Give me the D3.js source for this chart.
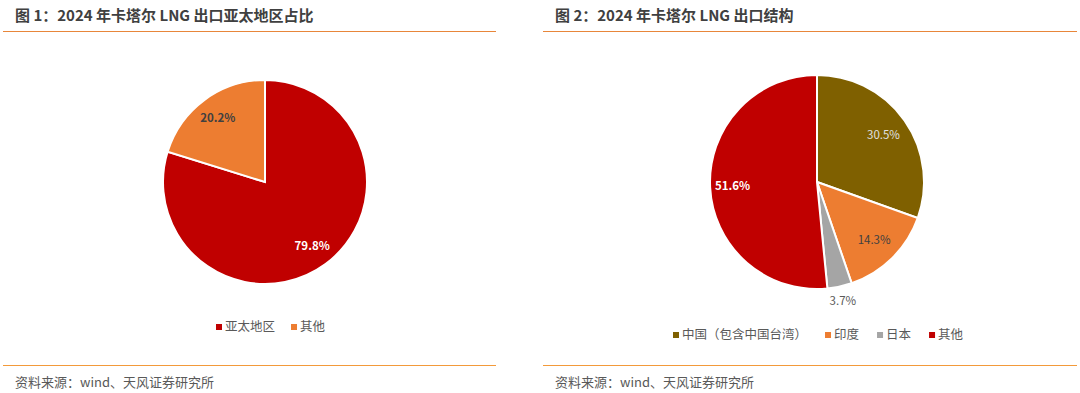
<!DOCTYPE html>
<html>
<head>
<meta charset="utf-8">
<script src="https://cdn.jsdelivr.net/npm/d3@7"></script>
<style>
  body { margin: 0; background: #fff; }
  svg { display: block; font-family: "Noto Sans CJK SC", "Noto Sans", sans-serif; }
</style>
</head>
<body>
<svg id="chart" width="1080" height="393"></svg>
<script>
// chart 1: share of Qatar LNG exports to Asia-Pacific
var regionNames = ['亚太地区', '其他'];
var regionShares = [79.8, 20.2];
var regionColors = ['#C00000', '#ED7D31'];

// chart 2: Qatar LNG export structure
var countryNames = ['中国（包含中国台湾）', '印度', '日本', '其他'];
var countryShares = [30.5, 14.3, 3.7, 51.6];
var countryColors = ['#7F6000', '#ED7D31', '#A5A5A5', '#C00000'];

var titles = ['图 1：2024 年卡塔尔 LNG 出口亚太地区占比', '图 2：2024 年卡塔尔 LNG 出口结构'];
var source = '资料来源：wind、天风证券研究所';

var svg = d3.select('#chart');

// panel frames: title, orange rules, source line
var panels = [{x0: 3, x1: 496, tx: 15}, {x0: 543, x1: 1077, tx: 555}];
panels.forEach(function(p, i) {
    svg.append('text')
        .attr('x', p.tx).attr('y', 21)
        .attr('font-size', 15).attr('font-weight', 'bold')
        .attr('fill', '#404040')
        .text(titles[i]);
    svg.append('line')
        .attr('x1', p.x0).attr('x2', p.x1)
        .attr('y1', 31.5).attr('y2', 31.5)
        .attr('stroke', '#E8863A').attr('stroke-width', 1);
    svg.append('line')
        .attr('x1', p.x0).attr('x2', p.x1)
        .attr('y1', 365.5).attr('y2', 365.5)
        .attr('stroke', '#F39A3A').attr('stroke-width', 1.2);
    svg.append('text')
        .attr('x', p.tx).attr('y', 387)
        .attr('font-size', 13)
        .attr('fill', '#595959')
        .text(source);
});

function drawPie(cfg) {
    var data = cfg.values.map(function(v, i) {
        return {name: cfg.names[i], value: v, color: cfg.colors[i], label: cfg.labels[i]};
    });
    var pie = d3.pie().sort(null).value(function(d) { return d.value; });
    var arcs = pie(data);
    var arc = d3.arc().innerRadius(0).outerRadius(cfg.r);

    var g = svg.append('g')
        .attr('transform', 'translate(' + cfg.cx + ',' + cfg.cy + ')');

    g.selectAll('path').data(arcs).enter().append('path')
        .attr('d', arc)
        .attr('fill', function(d) { return d.data.color; })
        .attr('stroke', '#fff')
        .attr('stroke-width', 2);

    g.selectAll('text').data(arcs).enter().append('text')
        .attr('transform', function(d) {
            var lr = cfg.r * d.data.label.rf;
            var c = d3.arc().innerRadius(lr).outerRadius(lr).centroid(d);
            return 'translate(' + c[0] + ',' + c[1] + ')';
        })
        .attr('text-anchor', 'middle')
        .attr('dy', '0.35em')
        .attr('font-size', 11.5)
        .attr('font-weight', function(d) { return d.data.label.bold ? 'bold' : 'normal'; })
        .attr('fill', function(d) { return d.data.label.fill; })
        .text(function(d) { return d.data.value.toFixed(1) + '%'; });

    // legend under the pie
    var lg = svg.append('g').attr('font-size', 12.5).attr('fill', '#595959');
    var x = cfg.legendX;
    data.forEach(function(d, i) {
        var item = lg.append('g').attr('transform', 'translate(' + x + ',' + cfg.legendY + ')');
        item.append('rect')
            .attr('x', 0).attr('y', -3).attr('width', 6).attr('height', 6)
            .attr('fill', d.color);
        var t = item.append('text')
            .attr('x', 9).attr('y', 0).attr('dy', '0.35em')
            .text(d.name);
        x += 9 + t.node().getComputedTextLength() + cfg.legendGap;
    });
}

drawPie({
    names: regionNames, values: regionShares, colors: regionColors,
    labels: [
        {rf: 0.78, fill: '#fff', bold: true},
        {rf: 0.78, fill: '#404040', bold: true}
    ],
    cx: 265, cy: 182, r: 102,
    legendX: 216, legendY: 327, legendGap: 16
});

drawPie({
    names: countryNames, values: countryShares, colors: countryColors,
    labels: [
        {rf: 0.76, fill: '#E0E0E0', bold: false},
        {rf: 0.76, fill: '#404040', bold: false},
        {rf: 1.14, fill: '#595959', bold: false},
        {rf: 0.79, fill: '#fff', bold: true}
    ],
    cx: 817, cy: 182, r: 107,
    legendX: 673, legendY: 335, legendGap: 18
});
</script>
</body>
</html>
